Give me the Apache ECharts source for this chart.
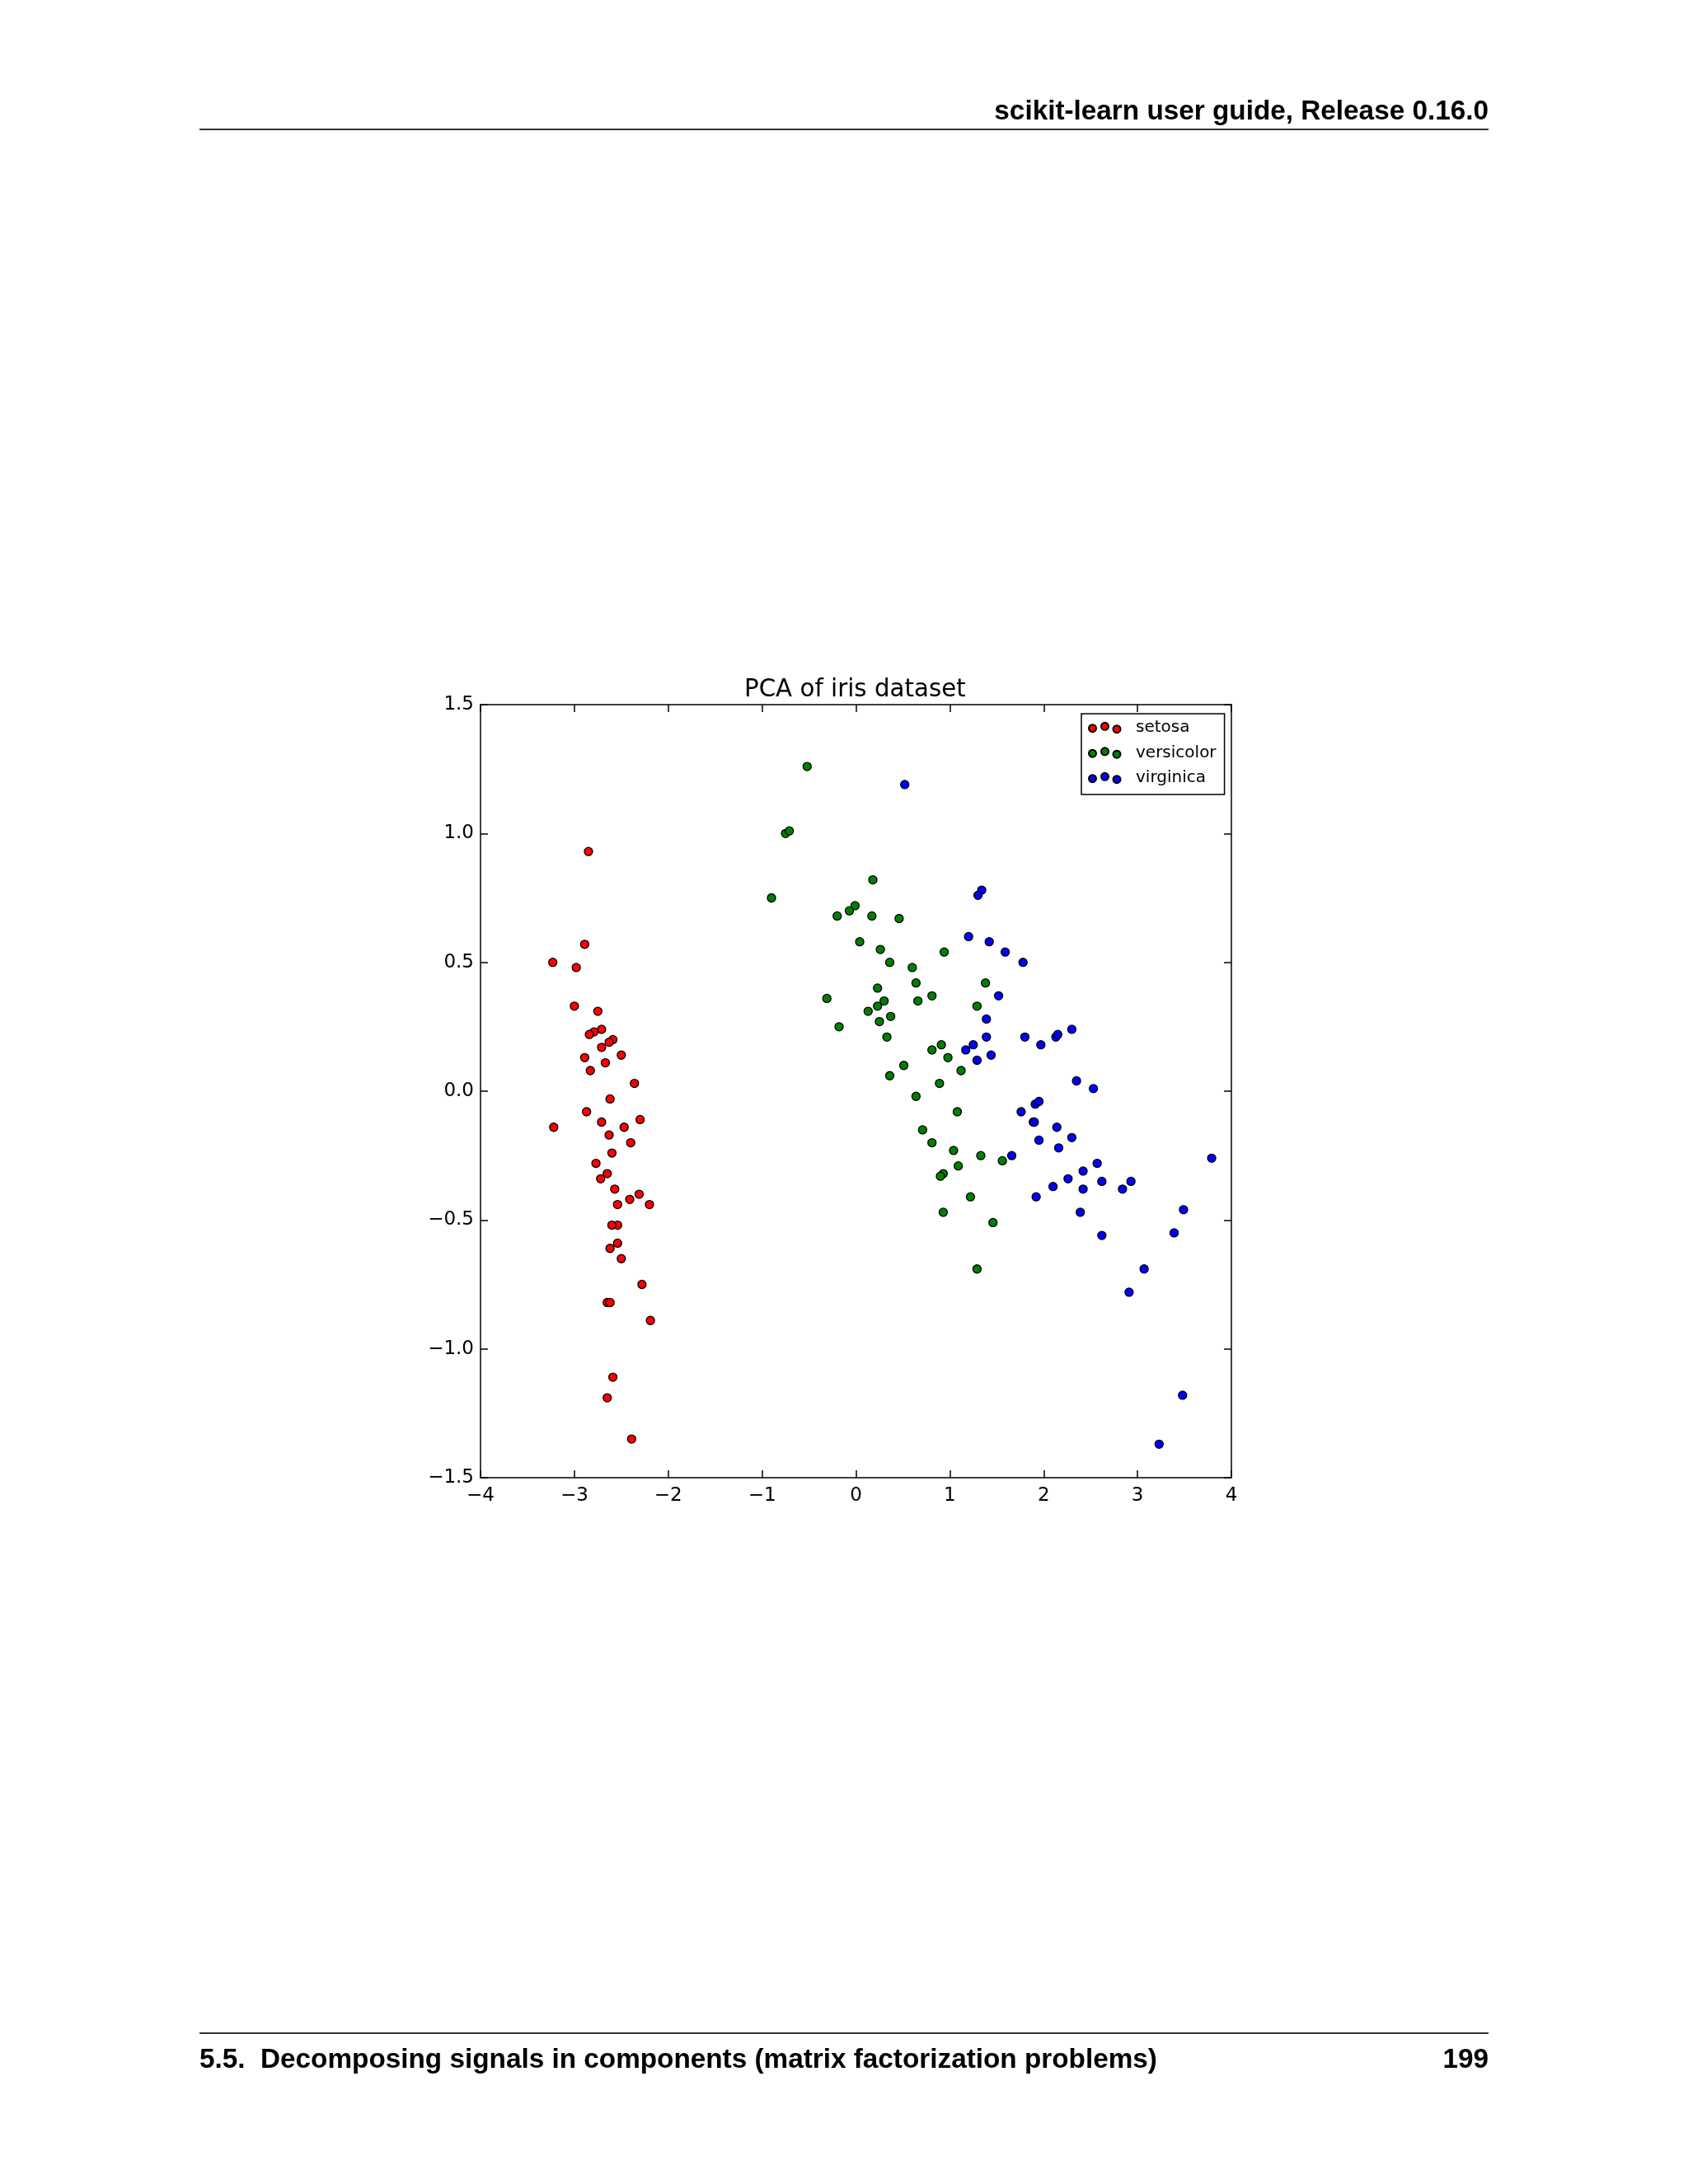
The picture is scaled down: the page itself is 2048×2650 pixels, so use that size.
<!DOCTYPE html>
<html>
<head>
<meta charset="utf-8">
<script src="https://cdn.jsdelivr.net/npm/echarts@6/dist/echarts.min.js"></script>
<style>
html,body{margin:0;padding:0;background:#fff;}
#chart{width:2048px;height:2650px;}
</style>
</head>
<body>
<div id="chart"></div>
<script>
// ---- data (PC1, PC2) ----
const setosa = [
  [-2.85,0.93],[-2.89,0.57],[-3.23,0.50],[-2.98,0.48],[-3.00,0.33],[-2.75,0.31],[-2.71,0.24],
  [-2.79,0.23],[-2.84,0.22],[-2.59,0.20],[-2.63,0.19],[-2.71,0.17],[-2.50,0.14],[-2.89,0.13],
  [-2.67,0.11],[-2.83,0.08],[-2.36,0.03],[-2.62,-0.03],[-2.87,-0.08],[-2.30,-0.11],[-2.71,-0.12],
  [-3.22,-0.14],[-2.47,-0.14],[-2.63,-0.17],[-2.40,-0.20],[-2.60,-0.24],[-2.77,-0.28],[-2.65,-0.32],
  [-2.72,-0.34],[-2.57,-0.38],[-2.31,-0.40],[-2.41,-0.42],[-2.54,-0.44],[-2.20,-0.44],[-2.54,-0.52],
  [-2.60,-0.52],[-2.54,-0.59],[-2.62,-0.61],[-2.50,-0.65],[-2.28,-0.75],[-2.65,-0.82],[-2.62,-0.82],
  [-2.19,-0.89],[-2.59,-1.11],[-2.65,-1.19],[-2.39,-1.35]
];
const versicolor = [
  [-0.52,1.26],[-0.75,1.00],[-0.71,1.01],[0.18,0.82],[-0.90,0.75],[-0.01,0.72],[-0.07,0.70],
  [-0.20,0.68],[0.17,0.68],[0.46,0.67],[0.04,0.58],[0.26,0.55],[0.94,0.54],[0.36,0.50],
  [0.60,0.48],[0.23,0.40],[0.64,0.42],[1.38,0.42],[-0.31,0.36],[0.66,0.35],[0.81,0.37],
  [0.30,0.35],[0.23,0.33],[1.29,0.33],[0.13,0.31],[0.37,0.29],[0.25,0.27],[-0.18,0.25],
  [0.33,0.21],[0.81,0.16],[0.91,0.18],[0.98,0.13],[0.51,0.10],[1.12,0.08],[0.36,0.06],
  [0.89,0.03],[0.64,-0.02],[1.08,-0.08],[0.71,-0.15],[0.81,-0.20],[1.04,-0.23],[1.33,-0.25],
  [1.56,-0.27],[1.09,-0.29],[0.93,-0.32],[0.90,-0.33],[1.22,-0.41],[0.93,-0.47],[1.46,-0.51],
  [1.29,-0.69]
];
const virginica = [
  [0.52,1.19],[1.34,0.78],[1.30,0.76],[1.20,0.60],[1.42,0.58],[1.59,0.54],[1.78,0.50],
  [1.52,0.37],[1.39,0.28],[1.39,0.21],[1.25,0.18],[1.17,0.16],[1.44,0.14],[1.29,0.12],
  [1.80,0.21],[1.97,0.18],[2.13,0.21],[2.15,0.22],[2.30,0.24],[1.91,-0.05],[1.95,-0.04],
  [1.76,-0.08],[1.89,-0.12],[1.90,-0.12],[2.14,-0.14],[1.95,-0.19],[2.16,-0.22],[2.30,-0.18],
  [1.66,-0.25],[2.26,-0.34],[2.10,-0.37],[1.92,-0.41],[2.35,0.04],[2.53,0.01],[3.79,-0.26],
  [2.57,-0.28],[2.42,-0.31],[2.62,-0.35],[2.93,-0.35],[2.84,-0.38],[2.42,-0.38],[3.49,-0.46],
  [2.39,-0.47],[3.39,-0.55],[2.62,-0.56],[3.07,-0.69],[2.91,-0.78],[3.48,-1.18],[3.23,-1.37]
];
const seriesNames = ['setosa','versicolor','virginica'];
const seriesColors = ['#ff0000','#008000','#0000ff'];
const xTicks = {min:-4, max:4, interval:1};
const yTicks = {min:-1.5, max:1.5, interval:0.5};
const titleText = 'PCA of iris dataset';
const headerText = 'scikit-learn user guide, Release 0.16.0';
const footerLeft = '5.5.  Decomposing signals in components (matrix factorization problems)';
const footerRight = '199';

const MINUS = '\u2212';
const fmtX = v => (v < 0 ? MINUS : '') + Math.abs(v);
const fmtY = v => (v < 0 ? MINUS : '') + Math.abs(v).toFixed(1);

const axisLine = {show:true, onZero:false, lineStyle:{color:'#000', width:1.5}};
const axisTick = {show:true, inside:true, length:9, lineStyle:{color:'#000', width:1.5}};
const labelBase = {color:'#000', fontFamily:'DejaVu Sans', fontSize:23};

const legendIcon = 'path://M0 6.8a4.5 4.5 0 1 0 9 0a4.5 4.5 0 1 0 -9 0ZM15 4.5a4.5 4.5 0 1 0 9 0a4.5 4.5 0 1 0 -9 0ZM29.5 7.8a4.5 4.5 0 1 0 9 0a4.5 4.5 0 1 0 -9 0Z';

const datasets = [setosa, versicolor, virginica];
const pageFont = 'bold 33.3px "Liberation Sans", Arial, sans-serif';

const chart = echarts.init(document.getElementById('chart'), null, {renderer:'canvas'});
chart.setOption({
  backgroundColor:'#ffffff',
  animation:false,
  title:{
    text:titleText, left:903, top:820, padding:0,
    textStyle:{fontFamily:'DejaVu Sans', fontWeight:'normal', fontSize:29.3, color:'#000', lineHeight:34}
  },
  legend:{
    orient:'vertical', left:1312, top:866, padding:[7,10,10,8], itemGap:10.5,
    itemWidth:38.5, itemHeight:12.3,
    borderColor:'#000', borderWidth:1.5, backgroundColor:'#fff',
    textStyle:{fontFamily:'DejaVu Sans', fontSize:20, color:'#000', lineHeight:20, padding:[0,0,0,13.5]},
    data: seriesNames.map(n => ({name:n, icon:legendIcon})),
    selectedMode:false
  },
  grid:{left:583, top:855, width:911, height:938, containLabel:false},
  xAxis:[
    {type:'value', min:xTicks.min, max:xTicks.max, interval:xTicks.interval, position:'bottom',
     axisLine, axisTick, splitLine:{show:false},
     axisLabel:Object.assign({formatter:fmtX, margin:11}, labelBase)},
    {type:'value', min:xTicks.min, max:xTicks.max, interval:xTicks.interval, position:'top',
     axisLine, axisTick, splitLine:{show:false}, axisLabel:{show:false}}
  ],
  yAxis:[
    {type:'value', min:yTicks.min, max:yTicks.max, interval:yTicks.interval, position:'left',
     axisLine, axisTick, splitLine:{show:false},
     axisLabel:Object.assign({formatter:fmtY, margin:8}, labelBase)},
    {type:'value', min:yTicks.min, max:yTicks.max, interval:yTicks.interval, position:'right',
     axisLine, axisTick, splitLine:{show:false}, axisLabel:{show:false}}
  ],
  series: seriesNames.map((n,i) => ({
    name:n, type:'scatter', xAxisIndex:0, yAxisIndex:0,
    data:datasets[i], symbol:'circle', symbolSize:10,
    itemStyle:{color:seriesColors[i], borderColor:'#000', borderWidth:1.3, opacity:1},
    emphasis:{disabled:true}
  })),
  graphic:[
    {type:'text', style:{text:headerText, x:1806, y:135.5, align:'right', verticalAlign:'middle',
      font:pageFont, fill:'#000'}},
    {type:'line', shape:{x1:242, y1:157, x2:1806, y2:157}, style:{stroke:'#333', lineWidth:2}},
    {type:'line', shape:{x1:242, y1:2467, x2:1806, y2:2467}, style:{stroke:'#333', lineWidth:2}},
    {type:'text', style:{text:footerLeft, x:242, y:2499.5, align:'left', verticalAlign:'middle',
      font:pageFont, fill:'#000'}},
    {type:'text', style:{text:footerRight, x:1806, y:2499.5, align:'right', verticalAlign:'middle',
      font:pageFont, fill:'#000'}}
  ]
});
</script>
</body>
</html>
